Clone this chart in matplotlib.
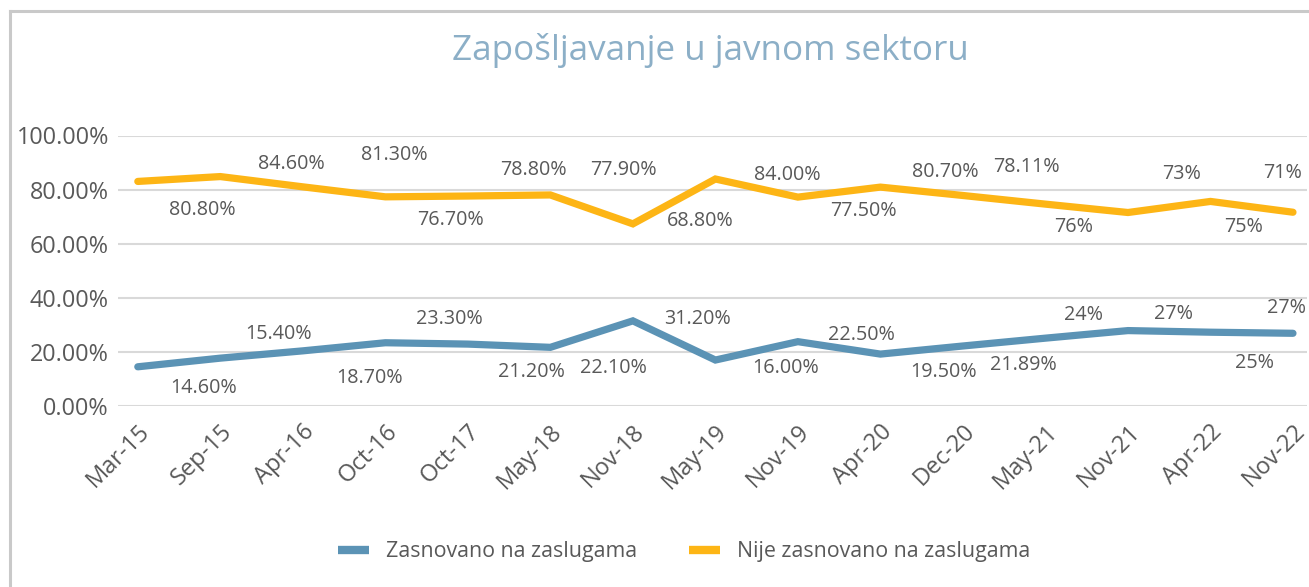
import matplotlib.pyplot as plt
from matplotlib.lines import Line2D

# categories (survey rounds)
periods = ["Mar-15", "Sep-15", "Apr-16", "Oct-16", "Oct-17", "May-18", "Nov-18",
           "May-19", "Nov-19", "Apr-20", "Dec-20", "May-21", "Nov-21", "Apr-22", "Nov-22"]

# line values as drawn (percent)
merit = [14.4, 17.6, 20.3, 23.3, 22.8, 21.6, 31.4, 16.9, 23.7, 19.1, 22.1, 25.0, 27.8, 27.2, 26.8]
non_merit = [83.0, 84.8, 81.0, 77.3, 77.6, 78.0, 67.3, 83.9, 77.2, 80.9, 77.8, 74.6, 71.5, 75.6, 71.6]

# data label texts as printed in the chart
merit_labels = ["14.60%", "15.40%", "18.70%", "23.30%", "21.20%", "22.10%", "31.20%", "16.00%",
                "22.50%", "19.50%", "21.89%", "24%", "27%", "25%", "27%"]
non_merit_labels = ["80.80%", "84.60%", "81.30%", "76.70%", "78.80%", "77.90%", "68.80%", "84.00%",
                    "77.50%", "80.70%", "78.11%", "76%", "73%", "75%", "71%"]

# label offsets from their point, in pixels (dx right, dy up)
merit_dx = [66, 58, 67, 64, 64, 63, 65, 70, 64, 63, 60, 38, 46, 44, -6]
merit_dy = [-21, 24, -27, 24, -28, -21, 2, -8, 7, -18, -19, 23, 17, -31, 25]
non_merit_dx = [65, 71, 91, 65, 66, 73, 67, 72, 66, 65, 64, 28, 54, 33, -10]
non_merit_dy = [-29, 13, 32, -23, 26, 25, 3, 4, -14, 15, 28, -23, 39, -26, 39]

BLUE = "#5b93b5"
GOLD = "#fdb515"
GREY = "#595959"

plt.rcParams['font.family'] = ['Open Sans', 'DejaVu Sans']

fig = plt.figure(figsize=(13.09, 5.87), dpi=100)
ax = fig.add_axes([118 / 1309, 1 - 405.7 / 587, (1307 - 118) / 1309, (405.7 - 135.5) / 587])

x = list(range(len(periods)))
ax.plot(x, merit, color=BLUE, lw=5.2, solid_capstyle='round', solid_joinstyle='miter',
        label="Zasnovano na zaslugama", zorder=3)
ax.plot(x, non_merit, color=GOLD, lw=5.2, solid_capstyle='round', solid_joinstyle='miter',
        label="Nije zasnovano na zaslugama", zorder=3)

for vals, texts, dxs, dys in [(merit, merit_labels, merit_dx, merit_dy),
                              (non_merit, non_merit_labels, non_merit_dx, non_merit_dy)]:
    for i, (v, t) in enumerate(zip(vals, texts)):
        ax.annotate(t, xy=(i, v), xytext=(dxs[i], dys[i]), textcoords='offset pixels',
                    ha='center', va='center', fontsize=14.2, color=GREY)

ax.set_xlim(-0.24, 14.17)
ax.set_ylim(0, 100)
ax.set_yticks(range(0, 101, 20))
ax.set_yticklabels([f"{v}.00%" for v in range(0, 101, 20)])
ax.set_xticks(x)
ax.set_xticklabels(periods, rotation=45, ha='right', va='top', rotation_mode='anchor')
ax.tick_params(axis='y', length=0, pad=6.5, labelsize=16.8, labelcolor=GREY)
ax.tick_params(axis='x', length=0, pad=10, labelsize=17, labelcolor=GREY)
ax.grid(axis='y', color='#d9d9d9', lw=1.5)
ax.set_axisbelow(True)
for s in ax.spines.values():
    s.set_visible(False)

fig.text(710 / 1309, 1 - 51 / 587, "Zapošljavanje u javnom sektoru", ha='center', va='center',
         fontsize=25.2, color='#8cafc7')

leg = fig.legend(loc='center', bbox_to_anchor=(684 / 1309, 1 - 552 / 587), ncol=2, frameon=False,
                 fontsize=15.4, handlelength=1.45, handletextpad=0.8, columnspacing=2.4)
for h in leg.legend_handles:
    h.set_linewidth(6)
    h.set_solid_capstyle('butt')
for t in leg.get_texts():
    t.set_color(GREY)

# outer frame (top and left edges only)
fig.add_artist(Line2D([10 / 1309, 1], [1 - 11 / 587, 1 - 11 / 587], color='#c9c9c9', lw=2.2))
fig.add_artist(Line2D([10 / 1309, 10 / 1309], [0, 1 - 11 / 587], color='#c9c9c9', lw=2.2))

fig.savefig("out.png", dpi=100)
